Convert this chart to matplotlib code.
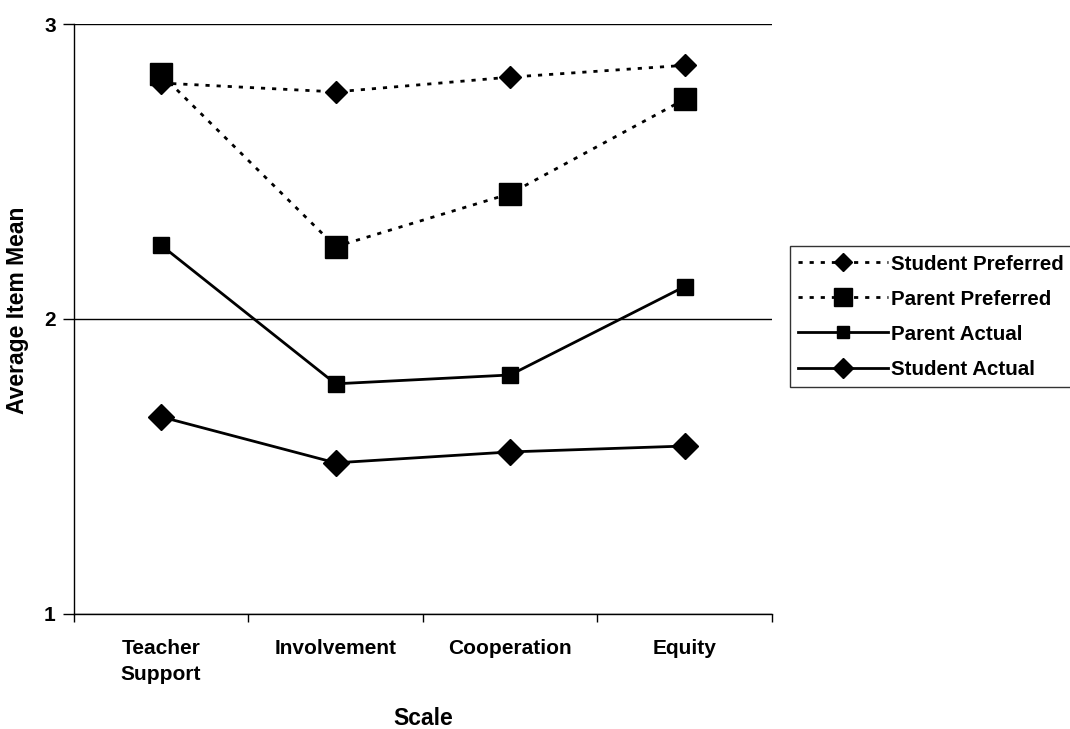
import matplotlib.pyplot as plt
import numpy as np

plt.rcParams['font.family'] = ['Liberation Sans', 'DejaVu Sans']
plt.rcParams['font.weight'] = 'bold'

categories = ["Teacher\nSupport", "Involvement", "Cooperation", "Equity"]
student_preferred = [2.80, 2.77, 2.82, 2.86]
parent_preferred = [2.83, 2.245, 2.425, 2.745]
parent_actual = [2.25, 1.78, 1.81, 2.11]
student_actual = [1.668, 1.512, 1.549, 1.569]

fig = plt.figure(figsize=(10.7, 7.29), dpi=100)
ax = fig.add_axes([0.069, 0.158, 0.6525, 0.809])

x = np.arange(len(categories))
dot = (0, (1.5, 2.5))
ax.plot(x, student_preferred, color='black', linestyle=dot, linewidth=2,
        marker='D', markersize=11, label='Student Preferred')
ax.plot(x, parent_preferred, color='black', linestyle=dot, linewidth=2,
        marker='s', markersize=16, label='Parent Preferred')
ax.plot(x, parent_actual, color='black', linestyle='-', linewidth=2,
        marker='s', markersize=11.5, label='Parent Actual')
ax.plot(x, student_actual, color='black', linestyle='-', linewidth=2,
        marker='D', markersize=13, label='Student Actual')

ax.set_xlim(-0.5, len(categories) - 0.5)
ax.set_ylim(1, 3)
ax.set_yticks([1, 2, 3])
ax.set_yticklabels(['1', '2', '3'], fontsize=15, fontweight='bold')
ax.yaxis.grid(True, color='black', linewidth=1)

ax.set_xticks(np.arange(-0.5, len(categories)))
ax.set_xticklabels([])
ax.set_xticks(x, minor=True)
ax.set_xticklabels(categories, minor=True, fontsize=15, fontweight='bold',
                   linespacing=1.45)
ax.tick_params(axis='x', which='minor', length=0, pad=18)
ax.tick_params(axis='x', which='major', length=6, width=1, direction='out')
ax.tick_params(axis='y', length=8, width=1, direction='out', pad=5)

for s in ['top', 'right']:
    ax.spines[s].set_visible(False)
for s in ['left', 'bottom']:
    ax.spines[s].set_linewidth(1)

ax.set_xlabel('Scale', fontsize=16.5, fontweight='bold')
ax.set_ylabel('Average Item Mean', fontsize=16.5, fontweight='bold')
ax.xaxis.label.set_va('center')
ax.yaxis.label.set_va('center')
ax.xaxis.set_label_coords(0.5, -0.178)
ax.yaxis.set_label_coords(-0.080, 0.514)

leg = fig.legend(loc='upper left', bbox_to_anchor=(0.738, 0.662),
                 fontsize=14.8, frameon=True, fancybox=False,
                 edgecolor='black', handlelength=4.4, borderpad=0.4,
                 labelspacing=0.78, handletextpad=0.15, borderaxespad=0,
                 markerscale=0.8)
leg.get_frame().set_linewidth(1)
for t in leg.get_texts():
    t.set_fontweight('bold')

fig.savefig('out.png', dpi=100)
